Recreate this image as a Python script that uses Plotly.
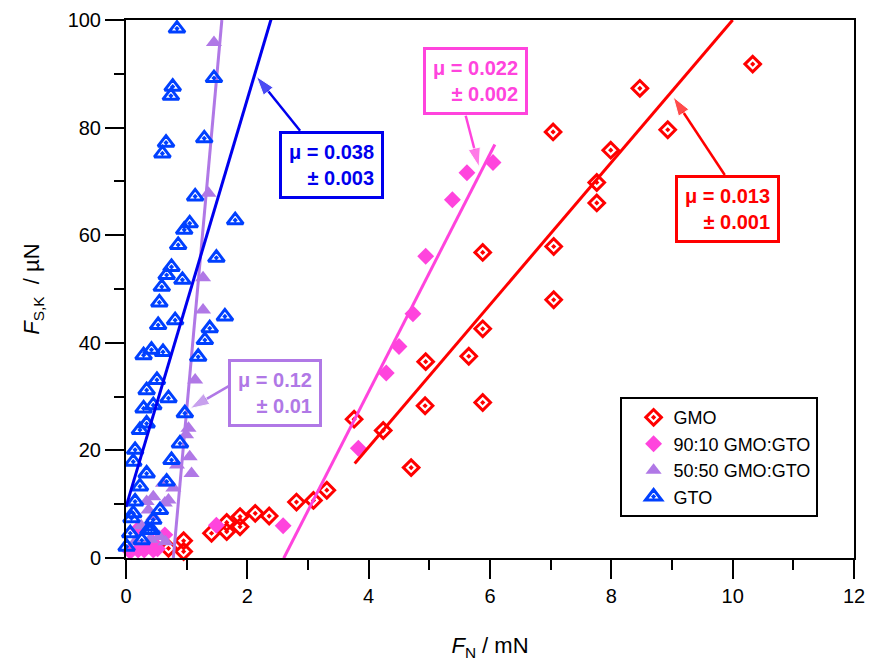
import plotly.graph_objects as go
import numpy as np

# ---------------- data ----------------
gmo_x = [10.33, 8.47, 8.93, 7.04, 7.99, 7.76, 7.76, 7.05, 5.88, 7.05, 5.88, 5.65, 4.94, 4.93, 5.88,
         3.76, 4.24, 4.70, 3.31, 3.09, 2.81, 2.36, 2.13, 1.88, 1.88, 1.66, 1.66, 1.41, 0.95, 0.95, 0.70, 0.45]
gmo_y = [91.8, 87.3, 79.6, 79.2, 75.8, 69.8, 66.0, 57.9, 56.8, 48.0, 42.6, 37.5, 36.5, 28.3, 28.9,
         25.8, 23.7, 16.8, 12.6, 10.7, 10.4, 7.8, 8.3, 7.7, 5.8, 4.9, 6.6, 4.6, 3.2, 1.2, 1.8, 2.4]

mix9010_x = [6.05, 5.62, 5.38, 4.94, 4.73, 4.50, 4.29, 3.83, 2.59, 1.49, 0.64, 0.52, 0.45, 0.45,
             0.30, 0.20, 0.07, 0.20]
mix9010_y = [73.5, 71.6, 66.6, 56.1, 45.4, 39.3, 34.4, 20.4, 6.0, 6.1, 4.3, 1.7, 2.8, 1.5,
             1.5, 1.5, 1.2, 5.4]

mix5050_x = [1.45, 1.36, 1.27, 1.27, 1.14, 1.03, 0.99, 1.05, 1.08, 0.84, 0.61, 0.45, 0.70, 0.37,
             0.34, 0.64, 0.45, 0.78, 0.25, 0.15, 0.55, 0.65, 0.40]
mix5050_y = [95.8, 67.8, 52.1, 46.1, 33.1, 24.1, 22.9, 18.8, 15.7, 17.3, 13.9, 11.4, 10.8, 8.9,
             10.5, 10.2, 7.7, 13.0, 6.0, 3.0, 4.0, 3.0, 3.5]

gto_x = [0.84, 1.45, 0.77, 0.74, 1.29, 0.66, 0.60, 1.14, 1.80, 1.05, 0.96, 0.86, 1.49, 0.75, 0.67,
         0.93, 0.59, 0.55, 1.63, 0.81, 0.53, 1.38, 1.30, 1.19, 0.61, 0.42, 0.29, 0.51, 0.34, 0.70,
         0.45, 0.29, 0.97, 0.34, 0.23, 0.89, 0.15, 0.75, 0.12, 0.34, 0.67, 0.23, 0.15, 0.12, 0.56,
         0.45, 0.09, 0.07, 0.37, 0.26, 0.01, 0.42]
gto_y = [98.4, 89.2, 87.6, 85.9, 78.0, 77.2, 75.2, 67.2, 62.8, 62.2, 61.0, 58.2, 55.8, 54.1, 52.6,
         51.7, 50.4, 47.5, 44.9, 44.2, 43.3, 42.7, 40.5, 37.4, 38.3, 38.7, 37.7, 33.1, 31.2, 29.7,
         28.4, 27.8, 26.9, 25.0, 23.8, 21.3, 20.1, 18.2, 17.9, 15.7, 14.2, 13.3, 10.5, 8.3, 8.9,
         7.1, 7.4, 4.6, 5.2, 3.3, 2.1, 5.2]

# linear fits: slope (uN/mN), intercept (uN), x-range (mN)
fit_names = ["GMO", "90:10 GMO:GTO", "50:50 GMO:GTO", "GTO"]
fit_slope = [13.23, 22.1, 125.0, 37.9]
fit_icpt = [-32.3, -57.5, -97.5, 9.5]
fit_xmin = [3.77, 2.60, 0.78, 0.0]
fit_xmax = [10.0, 6.08, 1.58, 2.39]

mu_text = ["μ = 0.013<br>± 0.001", "μ = 0.022<br>± 0.002", "μ = 0.12<br>± 0.01", "μ = 0.038<br>± 0.003"]

RED = "#FF0000"
PINK = "#FF44DD"
PURPLE = "#B078E6"
BLUE_M = "#0040FF"
BLUE_L = "#0000EE"

FONT = "Liberation Sans, Arial, sans-serif"

fig = go.Figure()

# markers
fig.add_trace(go.Scatter(x=gmo_x, y=gmo_y, mode="markers", name="GMO", cliponaxis=False,
                         marker=dict(symbol="diamond-open-dot", size=12, color=RED,
                                     line=dict(width=3, color=RED))))
fig.add_trace(go.Scatter(x=mix9010_x, y=mix9010_y, mode="markers", name="90:10 GMO:GTO", cliponaxis=False,
                         marker=dict(symbol="diamond", size=13, color=PINK, line=dict(width=0))))
fig.add_trace(go.Scatter(x=mix5050_x, y=mix5050_y, mode="markers", name="50:50 GMO:GTO", cliponaxis=False,
                         marker=dict(symbol="triangle-up", size=14, color=PURPLE, line=dict(width=0))))

# fit lines (red, pink, purple)
line_cols = [RED, PINK, PURPLE, BLUE_L]
for i in range(3):
    xs = np.array([fit_xmin[i], fit_xmax[i]])
    ys = fit_slope[i] * xs + fit_icpt[i]
    fig.add_trace(go.Scatter(x=xs, y=ys, mode="lines", showlegend=False, hoverinfo="skip",
                             line=dict(color=line_cols[i], width=3)))

fig.add_trace(go.Scatter(x=gto_x, y=gto_y, mode="markers", name="GTO", cliponaxis=False,
                         marker=dict(symbol="triangle-up-open-dot", size=14, color=BLUE_M,
                                     line=dict(width=3, color=BLUE_M))))
xs = np.array([fit_xmin[3], fit_xmax[3]])
fig.add_trace(go.Scatter(x=xs, y=fit_slope[3] * xs + fit_icpt[3], mode="lines", showlegend=False,
                         hoverinfo="skip", line=dict(color=BLUE_L, width=3)))

# annotation boxes: centre positions (data coords) and arrows (tail -> tip)
box_x = [9.91, 5.76, 2.46, 3.39]
box_y = [64.9, 88.7, 30.6, 73.0]
arrow_tail_x = [9.87, 5.60, 1.70, 2.87]
arrow_tail_y = [71.2, 82.2, 32.0, 79.4]
arrow_tip_x = [9.02, 5.82, 1.06, 2.15]
arrow_tip_y = [85.7, 72.7, 27.8, 89.5]
box_cols = [RED, PINK, PURPLE, BLUE_L]

for i in range(4):
    fig.add_trace(go.Scatter(x=[arrow_tail_x[i], arrow_tip_x[i]], y=[arrow_tail_y[i], arrow_tip_y[i]],
                             mode="lines+markers", showlegend=False, hoverinfo="skip",
                             line=dict(color=box_cols[i], width=2.5),
                             marker=dict(symbol="arrow", angleref="previous", size=[0, 20],
                                         color=box_cols[i])))
    fig.add_annotation(x=box_x[i], y=box_y[i], xref="x", yref="y", text="<b>" + mu_text[i] + "</b>",
                       showarrow=False, align="right",
                       font=dict(family=FONT, size=20, color=box_cols[i]),
                       bordercolor=box_cols[i], borderwidth=3, borderpad=7, bgcolor="white")

axis_common = dict(showline=True, linewidth=2, linecolor="black", mirror=True, showgrid=False,
                   zeroline=False, ticks="outside", ticklen=19, tickwidth=2, tickcolor="black",
                   automargin=False,
                   tickfont=dict(family=FONT, size=20, color="black"))

fig.update_layout(
    width=872, height=669,
    margin=dict(l=126, r=18, t=20, b=111),
    plot_bgcolor="white", paper_bgcolor="white",
    font=dict(family=FONT, size=20, color="black"),
    xaxis=dict(range=[0, 12], dtick=2, tick0=0,
               minor=dict(dtick=1, ticks="outside", ticklen=10, tickwidth=2, tickcolor="black"),
               title=dict(text="<i>F</i><sub>N</sub> / mN", font=dict(family=FONT, size=22), standoff=32),
               **axis_common),
    yaxis=dict(range=[0, 100], dtick=20, tick0=0,
               minor=dict(dtick=10, ticks="outside", ticklen=10, tickwidth=2, tickcolor="black"),
               title=dict(text="<i>F</i><sub>S,K</sub>  / µN", font=dict(family=FONT, size=22), standoff=22),
               **axis_common),
    legend=dict(x=0.678, y=0.299, xanchor="left", yanchor="top", bgcolor="white",
                bordercolor="black", borderwidth=2, font=dict(family=FONT, size=18, color="black"),
                tracegroupgap=0, indentation=12),
    showlegend=True,
)

fig.write_html("out.html")
